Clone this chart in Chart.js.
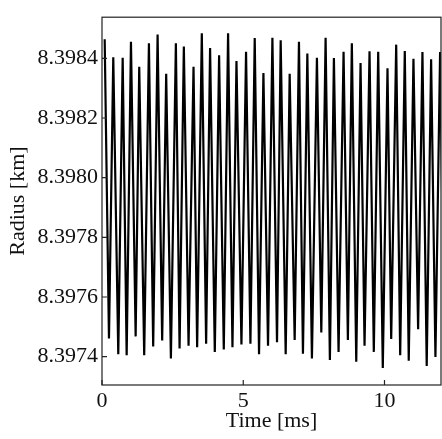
<!DOCTYPE html>
<html>
<head>
<meta charset="utf-8">
<script src="https://cdn.jsdelivr.net/npm/chart.js@4.4.0/dist/chart.umd.min.js"></script>
<style>
  html, body { margin: 0; padding: 0; background: #fff; }
  #wrap { width: 442px; height: 439px; }
</style>
</head>
<body>
<div id="wrap"><canvas id="radius-chart"></canvas></div>
<script>
// crests and troughs of the radial oscillation
var peakTime = [0.095, 0.399, 0.732, 1.025, 1.318, 1.661, 1.968, 2.272, 2.615, 2.897, 3.240, 3.533, 3.826, 4.145,
  4.463, 4.760, 5.099, 5.406, 5.714, 6.032, 6.325, 6.643, 6.972, 7.269, 7.608, 7.915, 8.209, 8.551, 8.844,
  9.152, 9.470, 9.777, 10.106, 10.414, 10.718, 11.025, 11.343, 11.650, 11.968];
var peakRadius = [8.398464, 8.398404, 8.398402, 8.398456, 8.398372, 8.398451, 8.398480, 8.398348, 8.398451,
  8.398440, 8.398372, 8.398484, 8.398435, 8.398410, 8.398484, 8.398391, 8.398422, 8.398468, 8.398351,
  8.398469, 8.398461, 8.398348, 8.398456, 8.398416, 8.398402, 8.398469, 8.398401, 8.398422, 8.398451,
  8.398384, 8.398424, 8.398422, 8.398367, 8.398446, 8.398425, 8.398399, 8.398421, 8.398397, 8.398421];
var troughTime = [0.247, 0.576, 0.873, 1.191, 1.494, 1.812, 2.130, 2.439, 2.746, 3.064, 3.368, 3.686, 3.993,
  4.311, 4.618, 4.936, 5.254, 5.559, 5.877, 6.195, 6.502, 6.820, 7.113, 7.431, 7.763, 8.067, 8.374, 8.704,
  9.000, 9.294, 9.622, 9.940, 10.237, 10.555, 10.858, 11.190, 11.494, 11.803, 12.120];
var troughRadius = [8.397461, 8.397408, 8.397405, 8.397468, 8.397405, 8.397434, 8.397454, 8.397394, 8.397427,
  8.397437, 8.397432, 8.397443, 8.397416, 8.397424, 8.397432, 8.397441, 8.397443, 8.397408, 8.397437,
  8.397448, 8.397408, 8.397456, 8.397410, 8.397394, 8.397481, 8.397389, 8.397416, 8.397456, 8.397383,
  8.397437, 8.397416, 8.397362, 8.397459, 8.397405, 8.397386, 8.397492, 8.397369, 8.397399, 8.397400];
var xTicks = [0, 5, 10];
var yTicks = [8.3974, 8.3976, 8.3978, 8.3980, 8.3982, 8.3984];

var points = [];
peakTime.forEach(function (t, i) {
  points.push({x: t, y: peakRadius[i]});
  points.push({x: troughTime[i], y: troughRadius[i]});
});

var FONT = {family: "'Liberation Serif', serif", size: 22};

// box round the plot and inward tick marks
var frame = {
  id: 'frame',
  afterDraw: function (chart) {
    var a = chart.chartArea, ctx = chart.ctx;
    var sx = chart.scales.x, sy = chart.scales.y;
    ctx.save();
    ctx.strokeStyle = '#222';
    ctx.lineWidth = 1.2;
    ctx.strokeRect(a.left, a.top, a.right - a.left, a.bottom - a.top);
    ctx.beginPath();
    xTicks.forEach(function (v) {
      var px = sx.getPixelForValue(v);
      ctx.moveTo(px, a.bottom); ctx.lineTo(px, a.bottom - 5);
    });
    yTicks.forEach(function (v) {
      var py = sy.getPixelForValue(v);
      ctx.moveTo(a.left, py); ctx.lineTo(a.left + 5, py);
    });
    ctx.stroke();
    ctx.restore();
  }
};

var config = {
  type: 'line',
  data: {
    datasets: [{
      data: points,
      borderColor: '#000',
      borderWidth: 2.2,
      pointRadius: 0,
      tension: 0,
      fill: false
    }]
  },
  options: {
    responsive: true,
    maintainAspectRatio: false,
    animation: false,
    layout: {padding: {top: 7, right: 1, left: 0, bottom: 0}},
    plugins: {legend: {display: false}, tooltip: {enabled: false}},
    scales: {
      x: {
        type: 'linear',
        min: 0,
        max: 12,
        afterBuildTicks: function (s) { s.ticks = xTicks.map(function (v) { return {value: v}; }); },
        afterFit: function (s) { s.height = 54; },
        grid: {display: false, drawTicks: false},
        border: {display: false},
        ticks: {font: FONT, color: '#111', padding: 3, maxRotation: 0},
        title: {display: true, text: 'Time [ms]', font: FONT, color: '#111', padding: {top: 0, bottom: 5}}
      },
      y: {
        type: 'linear',
        min: 8.397305,
        max: 8.398538,
        afterBuildTicks: function (s) { s.ticks = yTicks.map(function (v) { return {value: v}; }); },
        afterFit: function (s) { s.width = 102; },
        grid: {display: false, drawTicks: false},
        border: {display: false},
        ticks: {
          font: FONT, color: '#111', padding: 4,
          callback: function (v) { return Number(v).toFixed(4); }
        },
        title: {display: true, text: 'Radius [km]', font: FONT, color: '#111', padding: {top: 5, bottom: 0}}
      }
    }
  },
  plugins: [frame]
};

var ctx = document.getElementById('radius-chart').getContext('2d');
window.radiusChart = new Chart(ctx, config);
</script>
</body>
</html>
